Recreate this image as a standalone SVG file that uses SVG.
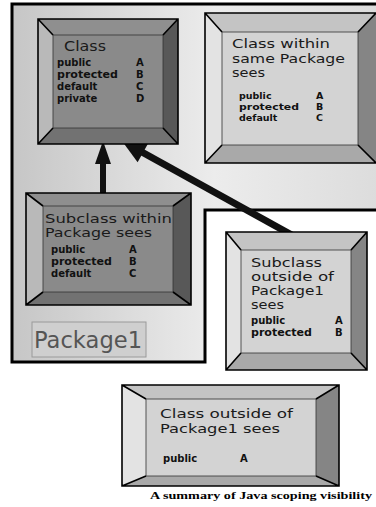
<svg xmlns="http://www.w3.org/2000/svg" width="376" height="507" viewBox="0 0 376 507">
<defs>
<linearGradient id="pkg" x1="0" y1="0" x2="1" y2="0">
<stop offset="0" stop-color="#c6c6c6"/>
<stop offset="0.55" stop-color="#ececec"/>
<stop offset="1" stop-color="#dcdcdc"/>
</linearGradient>
</defs>
<style>
.ol{stroke:#000;stroke-width:1.6;stroke-linejoin:miter}
.dk .t{fill:#8f8f8f}.dk .l{fill:#b9b9b9}.dk .r{fill:#585858}.dk .b{fill:#727272}.dk .f{fill:#8a8a8a}
.lt .t{fill:#c4c4c4}.lt .l{fill:#e3e3e3}.lt .r{fill:#858585}.lt .b{fill:#a9a9a9}.lt .f{fill:#d3d3d3}
.f{stroke:#333;stroke-width:0.8}
.ttl{font-family:"DejaVu Sans",sans-serif;font-size:12.5px;fill:#1a1a1a}
.itm{font-family:"DejaVu Sans",sans-serif;font-size:10px;font-weight:bold;fill:#111}
.sm{font-size:9.5px}
.arr{fill:#111}
</style>
<rect width="376" height="507" fill="#fff"/>
<g id="package1">
<polygon points="12,4 380,4 380,210 205,210 205,362 12,362" fill="url(#pkg)" stroke="#000" stroke-width="3"/>
<rect x="32" y="322" width="114" height="35" fill="#cfcfcf" stroke="#9a9a9a" stroke-width="1"/>
<text x="34" y="348" font-family="DejaVu Sans, sans-serif" font-size="23" fill="#555" textLength="108" lengthAdjust="spacingAndGlyphs">Package1</text>
</g>
<g id="connectors">
<rect x="100" y="160" width="6" height="34" class="arr"/>
<polygon points="103,141 95,164 111,164" class="arr"/>
<line x1="140" y1="151" x2="299" y2="239" stroke="#111" stroke-width="7"/>
<polygon points="122,141 137.6,162.3 148.4,143.1" class="arr"/>
</g>
<g id="class" class="dk">
<polygon class="t" points="38,19 178,19 163,35 53,35"/>
<polygon class="l" points="38,19 53,35 53,128 38,144"/>
<polygon class="r" points="178,19 178,144 163,128 163,35"/>
<polygon class="b" points="38,144 53,128 163,128 178,144"/>
<rect class="f" x="53" y="35" width="110" height="93"/>
<path class="ol" fill="none" d="M38,19H178V144H38Z M38,19L53,35 M178,19L163,35 M38,144L53,128 M178,144L163,128"/>
<text class="ttl" x="64" y="51" font-size="14" style="font-size:14px" textLength="42" lengthAdjust="spacingAndGlyphs">Class</text>
<text class="itm" x="57" y="66">public</text><text class="itm" x="136" y="66">A</text>
<text class="itm" x="57" y="78" textLength="61" lengthAdjust="spacingAndGlyphs">protected</text><text class="itm" x="136" y="78">B</text>
<text class="itm" x="57" y="90">default</text><text class="itm" x="136" y="90">C</text>
<text class="itm" x="57" y="102">private</text><text class="itm" x="136" y="102">D</text>
</g>
<g id="same-package" class="lt">
<polygon class="t" points="205,13 376,13 358,32 222,32"/>
<polygon class="l" points="205,13 222,32 222,145 205,163"/>
<polygon class="r" points="376,13 376,163 358,145 358,32"/>
<polygon class="b" points="205,163 222,145 358,145 376,163"/>
<rect class="f" x="222" y="32" width="136" height="113"/>
<path class="ol" fill="none" d="M205,13H377V163H205Z M205,13L222,32 M376,13L358,32 M205,163L222,145 M376,163L358,145"/>
<text class="ttl" x="232" y="48" textLength="98" lengthAdjust="spacingAndGlyphs">Class within</text>
<text class="ttl" x="232" y="63" textLength="113" lengthAdjust="spacingAndGlyphs">same Package</text>
<text class="ttl" x="232" y="77" textLength="33" lengthAdjust="spacingAndGlyphs">sees</text>
<text class="itm sm" x="239" y="99">public</text><text class="itm sm" x="316" y="99">A</text>
<text class="itm sm" x="239" y="110" textLength="60" lengthAdjust="spacingAndGlyphs">protected</text><text class="itm sm" x="316" y="110">B</text>
<text class="itm sm" x="239" y="121">default</text><text class="itm sm" x="316" y="121">C</text>
</g>
<g id="subclass-within" class="dk">
<polygon class="t" points="26,193 191,193 173,206 43,206"/>
<polygon class="l" points="26,193 43,206 43,292 26,305"/>
<polygon class="r" points="191,193 191,305 173,292 173,206"/>
<polygon class="b" points="26,305 43,292 173,292 191,305"/>
<rect class="f" x="43" y="206" width="130" height="86"/>
<path class="ol" fill="none" d="M26,193H191V305H26Z M26,193L43,206 M191,193L173,206 M26,305L43,292 M191,305L173,292"/>
<text class="ttl" x="45" y="223" fill="#333" textLength="127" lengthAdjust="spacingAndGlyphs">Subclass within</text>
<text class="ttl" x="45" y="237" textLength="107" lengthAdjust="spacingAndGlyphs">Package sees</text>
<text class="itm" x="51" y="253">public</text><text class="itm" x="129" y="253">A</text>
<text class="itm" x="51" y="265" textLength="61" lengthAdjust="spacingAndGlyphs">protected</text><text class="itm" x="129" y="265">B</text>
<text class="itm" x="51" y="277">default</text><text class="itm" x="129" y="277">C</text>
</g>
<g id="subclass-outside" class="lt">
<polygon class="t" points="226,232 367,232 351,250 241,250"/>
<polygon class="l" points="226,232 241,250 241,353 226,370"/>
<polygon class="r" points="367,232 367,370 351,353 351,250"/>
<polygon class="b" points="226,370 241,353 351,353 367,370"/>
<rect class="f" x="241" y="250" width="110" height="103"/>
<path class="ol" fill="none" d="M226,232H367V370H226Z M226,232L241,250 M367,232L351,250 M226,370L241,353 M367,370L351,353"/>
<text class="ttl" x="251" y="267" textLength="71" lengthAdjust="spacingAndGlyphs">Subclass</text>
<text class="ttl" x="251" y="281" textLength="83" lengthAdjust="spacingAndGlyphs">outside of</text>
<text class="ttl" x="251" y="295" textLength="73" lengthAdjust="spacingAndGlyphs">Package1</text>
<text class="ttl" x="251" y="309" textLength="33" lengthAdjust="spacingAndGlyphs">sees</text>
<text class="itm" x="251" y="324">public</text><text class="itm" x="335" y="324">A</text>
<text class="itm" x="251" y="336" textLength="61" lengthAdjust="spacingAndGlyphs">protected</text><text class="itm" x="335" y="336">B</text>
</g>
<g id="class-outside" class="lt">
<polygon class="t" points="122,385 339,385 316,399 146,399"/>
<polygon class="l" points="122,385 146,399 146,476 122,486"/>
<polygon class="r" points="339,385 339,486 316,476 316,399"/>
<polygon class="b" points="122,486 146,476 316,476 339,486"/>
<rect class="f" x="146" y="399" width="170" height="77"/>
<path class="ol" fill="none" d="M122,385H339V486H122Z M122,385L146,399 M339,385L316,399 M122,486L146,476 M339,486L316,476"/>
<text class="ttl" x="160" y="418" textLength="133" lengthAdjust="spacingAndGlyphs">Class outside of</text>
<text class="ttl" x="160" y="433" textLength="120" lengthAdjust="spacingAndGlyphs">Package1 sees</text>
<text class="itm" x="163" y="462">public</text><text class="itm" x="240" y="462">A</text>
</g>
<text x="150" y="499" font-family="Liberation Serif, serif" font-weight="bold" font-size="10.5" fill="#000" textLength="222" lengthAdjust="spacingAndGlyphs">A summary of Java scoping visibility</text>
</svg>
